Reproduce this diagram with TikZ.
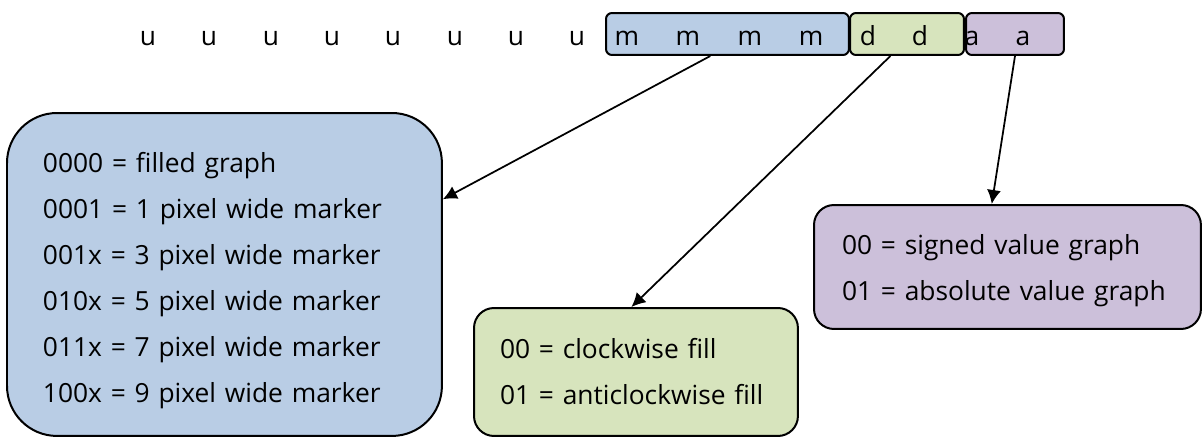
\documentclass[tikz,border=0pt]{standalone}
\usepackage{fontspec}
\setmainfont{Open Sans}
\usetikzlibrary{positioning,arrows.meta}
\definecolor{modeblue}{RGB}{185, 205, 229}
\definecolor{dirgreen}{RGB}{215, 228, 189}
\definecolor{abspurple}{RGB}{204, 192, 218}

\begin{document}
\begin{tikzpicture}[x=0.02cm, y=-0.02cm,
fieldnode/.style={rounded corners=1.2mm, draw=black!100, line width=0.4mm, minimum height=8.4mm, anchor=north west},
letternode/.style={anchor=base, inner sep=0pt, font=\fontsize{15}{18}\selectfont},
legendnode/.style={draw=black!100, line width=0.4mm, anchor=north west, align=left, inner ysep=0pt, font=\fontsize{15}{26.2}\selectfont},
arrow/.style={-{Latex[length=2.8mm,width=2.8mm]}, line width=0.35mm}
]
\useasboundingbox (0,0) rectangle (1204,437);

%Nodes
%Nodes fields
\node[fieldnode, fill=modeblue!100, minimum width=4.86cm] 	(mode_field) at (605,12) {};
\node[fieldnode, fill=dirgreen!100, minimum width=2.28cm] 	(dir_field) at (849,12) {};
\node[fieldnode, fill=abspurple!100, minimum width=1.96cm] 	(abs_field) at (965,12) {};

%Nodes letters
\node[letternode] 	(u_node_1) at (148,45) {u};
\node[letternode] 	(u_node_2) at (209,45) {u};
\node[letternode] 	(u_node_3) at (271,45) {u};
\node[letternode] 	(u_node_4) at (332,45) {u};
\node[letternode] 	(u_node_5) at (393,45) {u};
\node[letternode] 	(u_node_6) at (455,45) {u};
\node[letternode] 	(u_node_7) at (516,45) {u};
\node[letternode] 	(u_node_8) at (577,45) {u};

\node[letternode] 	(m_node_1) at (627,45) {m};
\node[letternode] 	(m_node_2) at (688,45) {m};
\node[letternode] 	(m_node_3) at (750,45) {m};
\node[letternode] 	(m_node_4) at (811,45) {m};

\node[letternode] 	(d_node_1) at (868,45) {d};
\node[letternode] 	(d_node_2) at (920,45) {d};

\node[letternode] 	(a_node_1) at (972,45) {a};
\node[letternode] 	(a_node_2) at (1023,45) {a};

%Nodes legends
\node[legendnode, fill=modeblue!100, rounded corners=1cm, inner xsep=0.72cm, text width=7.26cm, minimum height=6.46cm] 	(mode_legend) at (6,112)
{\rule{0pt}{0.66cm}0000 = filled graph\\
0001 = 1 pixel wide marker\\
001x = 3 pixel wide marker\\
010x = 5 pixel wide marker\\
011x = 7 pixel wide marker\\
100x = 9 pixel wide marker};

\node[legendnode, fill=dirgreen!100, rounded corners=0.4cm, inner xsep=0.52cm, text width=5.44cm, minimum height=2.56cm] 	(dir_legend) at (473,307)
{00 = clockwise fill\\
01 = anticlockwise fill};

\node[legendnode, fill=abspurple!100, rounded corners=0.4cm, inner xsep=0.56cm, text width=6.62cm, minimum height=2.48cm] 	(abs_legend) at (813,204)
{\rule{0pt}{0.54cm}00 = signed value graph\\
01 = absolute value graph};

%Arrow
\draw [arrow] (mode_field.232) -- (mode_legend.19.1);
\draw [arrow] (dir_field.233) -- (dir_legend.94.5);
\draw [arrow] (abs_field.south) -- (abs_legend.104.9);

\end{tikzpicture}
\end{document}
